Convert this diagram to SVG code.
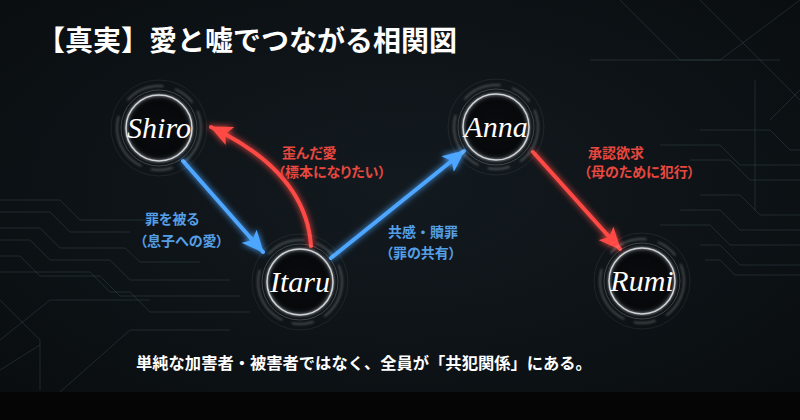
<svg xmlns="http://www.w3.org/2000/svg" width="800" height="420" viewBox="0 0 800 420">
<defs>
<radialGradient id="bg" cx="50%" cy="45%" r="70%">
<stop offset="0" stop-color="#131a1f"/>
<stop offset="1" stop-color="#090d10"/>
</radialGradient>
<radialGradient id="core" cx="50%" cy="50%" r="50%">
<stop offset="0" stop-color="#0a0c0f"/>
<stop offset="0.8" stop-color="#06080a"/>
<stop offset="1" stop-color="#1a1f24"/>
</radialGradient>
<filter id="glow" x="-50%" y="-50%" width="200%" height="200%">
<feGaussianBlur stdDeviation="3" result="b"/>
<feMerge><feMergeNode in="b"/><feMergeNode in="SourceGraphic"/></feMerge>
</filter>
<filter id="soft" x="-50%" y="-50%" width="200%" height="200%">
<feGaussianBlur stdDeviation="1.2"/>
</filter>
<marker id="ahBlue" viewBox="0 0 22 20" refX="21" refY="10" markerWidth="22" markerHeight="20" markerUnits="userSpaceOnUse" orient="auto">
<path d="M0,0 L22,10 L0,20 L5,10 Z" fill="#4ea6ff"/>
</marker>
<marker id="ahRed" viewBox="0 0 22 20" refX="21" refY="10" markerWidth="22" markerHeight="20" markerUnits="userSpaceOnUse" orient="auto">
<path d="M0,0 L22,10 L0,20 L5,10 Z" fill="#ff4a45"/>
</marker>
<g id="ring">
<circle r="48" fill="none" stroke="#ffffff" stroke-opacity="0.07" stroke-width="1"/>
<circle r="42" fill="none" stroke="#ffffff" stroke-opacity="0.3" stroke-width="1.5" stroke-dasharray="40 12 22 10 60 18" filter="url(#soft)"/>
<circle r="38" fill="none" stroke="#ffffff" stroke-opacity="0.2" stroke-width="1"/>
<circle r="33" fill="url(#core)" stroke="#e8eef2" stroke-opacity="0.8" stroke-width="1.5"/>
<circle r="33" fill="none" stroke="#ffffff" stroke-opacity="0.35" stroke-width="3" filter="url(#soft)"/>
</g>
</defs>
<style>
.title{font-family:"Noto Sans CJK JP","Noto Sans",sans-serif;font-weight:700;font-size:28px;fill:#ffffff}
.name{font-family:"Liberation Serif","DejaVu Serif",serif;font-style:italic;font-size:30px;fill:#ffffff;text-anchor:middle}
.lbl{font-family:"Noto Sans CJK JP","Noto Sans",sans-serif;font-weight:700;font-size:14px}
.p{font-feature-settings:"palt"}
.blue{fill:#559fe6}
.red{fill:#e8483f}
.foot{font-family:"Noto Sans CJK JP","Noto Sans",sans-serif;font-weight:700;font-size:16.3px;fill:#ffffff}
.trace{fill:none;stroke:#3c5058;stroke-opacity:0.4;stroke-width:1}
.conn{fill:none;stroke-width:4;stroke-linecap:round;filter:url(#glow)}
</style>
<rect width="800" height="420" fill="url(#bg)"/>
<rect y="392" width="800" height="28" fill="#050505"/>
<g id="circuit">
<polyline class="trace" points="0,200 60,200 80,220 150,220"/>
<polyline class="trace" points="0,212 50,212 70,232 130,232"/>
<polyline class="trace" points="0,228 40,228 60,248 125,248 140,262 200,262"/>
<polyline class="trace" points="0,240 30,240 50,260 110,260 130,280 230,280"/>
<polyline class="trace" points="0,256 20,256 40,276 100,276 120,296 240,296"/>
<polyline class="trace" points="0,272 90,272 110,292 130,292 150,312 250,312"/>
<polyline class="trace" points="0,300 40,340 40,390"/>
<polyline class="trace" points="0,340 50,300 150,300"/>
<polyline class="trace" points="60,392 130,330 230,330"/>
<polyline class="trace" points="0,370 40,345"/>
<polyline class="trace" points="700,130 770,130 790,150 800,150"/>
<polyline class="trace" points="660,145 720,145 740,165 800,165"/>
<polyline class="trace" points="690,160 730,160 750,180 800,180"/>
<polyline class="trace" points="700,195 740,195 760,215 800,215"/>
<polyline class="trace" points="680,210 720,210 740,230 800,230"/>
<polyline class="trace" points="660,225 710,225 730,245 800,245"/>
<polyline class="trace" points="700,245 720,245 740,265 800,265"/>
<polyline class="trace" points="705,260 720,260 735,275 800,275"/>
<polyline class="trace" points="755,80 755,210"/>
<polyline class="trace" points="620,0 680,60 720,60 800,0"/>
<polyline class="trace" points="700,0 760,60 800,100"/>
<polyline class="trace" points="770,120 800,90"/>
<polyline class="trace" points="590,60 780,60"/>
</g>
<text class="title" x="37" y="51">【真実】愛と嘘でつながる相関図</text>
<g id="connectors">
<line class="conn" x1="183" y1="161" x2="263" y2="252" stroke="#4ea6ff" marker-end="url(#ahBlue)"/>
<path class="conn" d="M311,246 Q306,172 211,127" stroke="#ff4a45" marker-end="url(#ahRed)"/>
<line class="conn" x1="331" y1="258" x2="464" y2="151" stroke="#4ea6ff" marker-end="url(#ahBlue)"/>
<line class="conn" x1="533" y1="152" x2="620" y2="249" stroke="#ff4a45" marker-end="url(#ahRed)"/>
</g>
<g id="labels">
<text class="lbl blue p" x="145" y="224">罪を被る</text>
<text class="lbl blue p" x="140" y="246">（息子への愛）</text>
<text class="lbl red p" x="282" y="158">歪んだ愛</text>
<text class="lbl red p" x="278" y="177">（標本になりたい）</text>
<text class="lbl blue" x="388" y="237">共感・贖罪</text>
<text class="lbl blue p" x="386" y="258">（罪の共有）</text>
<text class="lbl red p" x="588" y="158">承認欲求</text>
<text class="lbl red p" x="584" y="177">（母のために犯行）</text>
</g>
<g id="node-shiro" transform="translate(159,128)">
<use href="#ring"/>
<text class="name" y="10">Shiro</text>
</g>
<g id="node-itaru" transform="translate(300,282)">
<use href="#ring"/>
<text class="name" y="10">Itaru</text>
</g>
<g id="node-anna" transform="translate(496,127)">
<use href="#ring"/>
<text class="name" y="10">Anna</text>
</g>
<g id="node-rumi" transform="translate(642,281)">
<use href="#ring"/>
<text class="name" y="10">Rumi</text>
</g>
<text class="foot" x="136" y="369">単純な加害者・被害者ではなく、全員が「共犯関係」にある。</text>
</svg>
